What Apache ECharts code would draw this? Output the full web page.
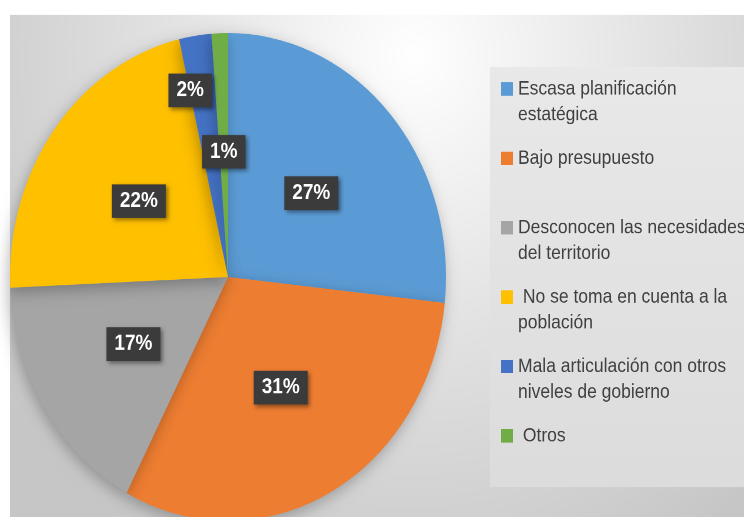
<!DOCTYPE html>
<html><head><meta charset="utf-8">
<script src="https://cdn.jsdelivr.net/npm/echarts@6/dist/echarts.min.js"></script>
<style>
html,body{margin:0;padding:0;background:#fff;overflow:hidden;width:744px;height:517px;}
#wrap{position:absolute;left:0;top:0;width:744px;height:462px;transform:scaleY(1.119);transform-origin:0 0;}
#chart{width:744px;height:462px;}
</style></head>
<body><div id="wrap"><div id="chart"></div></div>
<script>
// Categories (slice order, clockwise from 12 o'clock)
const categories = [
  'Escasa planificación estatégica',
  'Bajo presupuesto',
  'Desconocen las necesidades del territorio',
  'No se toma en cuenta a la población',
  'Mala articulación con otros niveles de gobierno',
  'Otros'
];
// Legend text as wrapped in the reference
const legendText = [
  'Escasa planificación\nestatégica',
  'Bajo presupuesto',
  'Desconocen las necesidades\ndel territorio',
  ' No se toma en cuenta a la\npoblación',
  'Mala articulación con otros\nniveles de gobierno',
  ' Otros'
];
// Shares (percent)
const values = [26.7, 31.0, 16.6, 22.1, 2.4, 1.2];
const colors = ['#5B9BD5', '#ED7D31', '#A5A5A5', '#FFC000', '#4472C4', '#70AD47'];

const chart = echarts.init(document.getElementById('chart'), null, {renderer: 'canvas', devicePixelRatio: 2});

const legendMap = {};
categories.forEach((c, i) => { legendMap[c] = legendText[i]; });

const option = {
  animation: false,
  color: colors,
  graphic: [
    {
      type: 'rect', z: -10,
      shape: {x: 10, y: 13.4, width: 734, height: 449},
      style: {
        fill: new echarts.graphic.RadialGradient(0.55, 0.08, 1.15, [
          {offset: 0, color: '#ffffff'},
          {offset: 0.45, color: '#e4e4e4'},
          {offset: 1, color: '#c6c6c6'}
        ])
      }
    },
    {
      type: 'rect', z: -9,
      shape: {x: 490, y: 59.9, width: 254, height: 375.3},
      style: {
        fill: new echarts.graphic.LinearGradient(0, 0, 0, 1, [
          {offset: 0, color: '#e9e9e9'},
          {offset: 1, color: '#dcdcdc'}
        ])
      }
    }
  ],
  legend: {
    orient: 'vertical',
    left: 501,
    top: 45,
    padding: 0,
    itemGap: -7,
    itemWidth: 12,
    itemHeight: 12,
    icon: 'rect',
    data: categories,
    formatter: function (name) {
      const lines = legendMap[name].split('\n');
      if (lines.length < 2) lines.push('');
      return '\n' + lines.join('\n');
    },
    textStyle: {
      fontFamily: 'Liberation Sans',
      fontSize: 17.5,
      lineHeight: 23,
      color: '#404040'
    }
  },
  series: [{
    type: 'pie',
    center: [228, 247.5],
    radius: [0, 218],
    startAngle: 90,
    clockwise: true,
    avoidLabelOverlap: false,
    percentPrecision: 0,
    itemStyle: {
      shadowBlur: 14,
      shadowColor: 'rgba(0,0,0,0.28)',
      shadowOffsetX: -2,
      shadowOffsetY: 4
    },
    label: {
      show: true,
      position: 'inside',
      formatter: '{d}%',
      color: '#ffffff',
      fontFamily: 'Liberation Sans',
      fontWeight: 'bold',
      fontSize: 19,
      lineHeight: 20,
      backgroundColor: '#3b3b3b',
      padding: [5, 8],
      shadowColor: 'rgba(0,0,0,0.45)',
      shadowBlur: 4,
      shadowOffsetX: 2,
      shadowOffsetY: 2
    },
    labelLine: {show: false},
    labelLayout: function (params) {
      if (params.dataIndex === 4) return {dx: -21, dy: -56};
      return {};
    },
    emphasis: {disabled: true},
    data: categories.map((c, i) => ({name: c, value: values[i]}))
  }]
};
chart.setOption(option);
</script>
</body></html>
